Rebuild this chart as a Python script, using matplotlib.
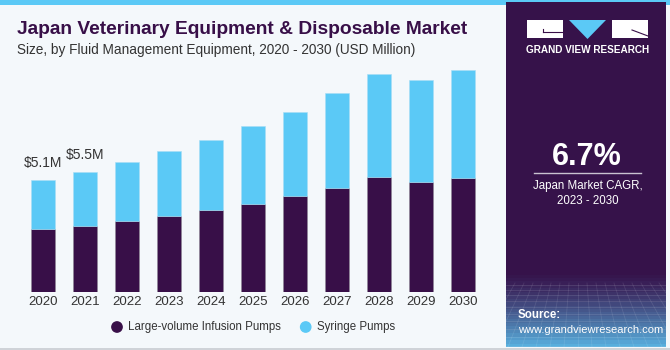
import numpy as np
import matplotlib.pyplot as plt
from matplotlib.patches import Rectangle, Polygon

YEARS = ['2020', '2021', '2022', '2023', '2024', '2025',
         '2026', '2027', '2028', '2029', '2030']
LARGE_VOLUME = [2.85, 2.98, 3.21, 3.43, 3.72, 3.99, 4.37, 4.73, 5.20, 4.98, 5.19]
TOTAL = [5.10, 5.46, 5.88, 6.40, 6.90, 7.52, 8.18, 9.03, 9.90, 9.60, 10.09]
SYRINGE = [t - l for t, l in zip(TOTAL, LARGE_VOLUME)]
LABELS = {0: '$5.1M', 1: '$5.5M'}

DARK = '#380F48'
LIGHT = '#5BC9F6'
BG = '#F4F8FB'
FONT = 'Liberation Sans'
W, H = 670, 350

fig = plt.figure(figsize=(W / 100, H / 100), dpi=100)
fig.patch.set_facecolor(BG)


def px(x, y):
    # pixel coords (top-left origin) -> figure fraction
    return x / W, 1 - y / H


# full-figure overlay axes for decorations
deco = fig.add_axes([0, 0, 1, 1])
deco.axis('off')
deco.add_patch(Rectangle((0, 0), W, 5, color=LIGHT, lw=0))
deco.add_patch(Rectangle((0, H - 2), W, 2, color='#CFD3D8', lw=0))

# right panel, purple fading to blue at the bottom
grad = np.zeros((100, 1, 3))
top_c = np.array([0x36, 0x12, 0x4A]) / 255
bot_c = np.array([0x5B, 0xB8, 0xE6]) / 255
for i in range(100):
    y = 2 + i * 3.45
    t = 0 if y < 270 else min(1, (y - 270) / 77) ** 1.3
    grad[i, 0] = top_c * (1 - t) + bot_c * t
deco.imshow(grad, extent=(506, 666, 347, 2), aspect='auto', zorder=1)
# faint grid texture
for k in range(14):
    yy = 285 + k * 4.5 + k * k * 0.25
    deco.plot([506, 666], [yy, yy], color='white', alpha=0.12, lw=0.6, zorder=2)
for k in range(-10, 30):
    deco.plot([506 + k * 9, 506 + k * 14 - 40], [283, 347], color='white',
              alpha=0.10, lw=0.6, zorder=2)
deco.set_xlim(0, W)
deco.set_ylim(H, 0)

# logo
deco.add_patch(Rectangle((527, 20), 36, 18, color='white', lw=0, zorder=3))
deco.plot([543, 563], [32, 32], color=DARK, lw=0.8, zorder=4)
deco.plot([543, 543], [29, 32], color=DARK, lw=0.8, zorder=4)
deco.add_patch(Polygon([[569, 20], [606, 20], [587.5, 39]], color=LIGHT, lw=0, zorder=3))
deco.add_patch(Rectangle((612, 20), 36, 18, color='white', lw=0, zorder=3))
deco.plot([632, 648], [30, 36], color=DARK, lw=0.8, zorder=4)
deco.text(587.5, 50, 'GRAND VIEW RESEARCH', color='white', fontsize=7.2,
          fontweight='bold', ha='center', va='center', zorder=4, family=FONT)

deco.text(587, 157, '6.7%', color='white', fontsize=22, fontweight='bold',
          ha='center', va='center', zorder=4, family=FONT)
deco.plot([534, 641], [173, 173], color='#C9C2D0', lw=1, zorder=4)
deco.text(588, 186, 'Japan Market CAGR,', color='white', fontsize=8.3,
          ha='center', va='center', zorder=4, family=FONT)
deco.text(588, 201, '2023 - 2030', color='white', fontsize=8.3,
          ha='center', va='center', zorder=4, family=FONT)
deco.text(518, 315, 'Source:', color='white', fontsize=8.3, fontweight='bold',
          ha='left', va='center', zorder=4, family=FONT)
deco.text(518, 330, 'www.grandviewresearch.com', color='white', fontsize=8.0,
          ha='left', va='center', zorder=4, family=FONT)

# titles
deco.text(17, 29, 'Japan Veterinary Equipment & Disposable Market',
          color=DARK, fontsize=13.8, fontweight='heavy', ha='left',
          va='center', family=FONT)
deco.text(17, 50, 'Size, by Fluid Management Equipment, 2020 - 2030 (USD Million)',
          color='#333333', fontsize=9.85, ha='left', va='center', family=FONT)

# bar chart
x0, y0 = px(0, 292)
x1, y1 = px(505, 60)
ax = fig.add_axes([x0, y0, x1 - x0, y1 - y0])
ax.set_facecolor('none')
idx = np.arange(len(YEARS))
ax.bar(idx, LARGE_VOLUME, width=0.58, color=DARK, edgecolor='#8E8896', lw=0.4)
ax.bar(idx, SYRINGE, bottom=LARGE_VOLUME, width=0.58, color=LIGHT,
       edgecolor='#A8DDF5', lw=0.4)
for i, lab in LABELS.items():
    ax.text(i, TOTAL[i] + 0.45, lab, ha='center', va='bottom', fontsize=10,
            color='#333333', family=FONT)
ax.set_xlim(-1.019, 11.0)
ax.set_ylim(0, 10.53)
ax.set_xticks(idx)
ax.set_xticklabels(YEARS, fontsize=9.5, color='#333333', family=FONT)
ax.tick_params(axis='x', length=0, pad=3)
ax.set_yticks([])
for s in ax.spines.values():
    s.set_visible(False)

# legend
deco.scatter([117, 305.7], [327, 327], s=55, c=[DARK, LIGHT], zorder=5)
deco.text(128, 327, 'Large-volume Infusion Pumps', fontsize=8.3, color='#333333',
          ha='left', va='center', family=FONT)
deco.text(317, 327, 'Syringe Pumps', fontsize=8.3, color='#333333',
          ha='left', va='center', family=FONT)

fig.savefig('out.png', dpi=100, facecolor=BG)
